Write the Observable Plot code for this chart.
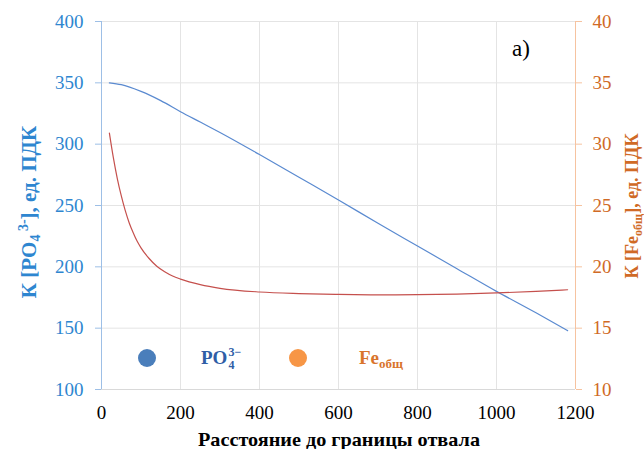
<!DOCTYPE html>
<html>
<head>
<meta charset="utf-8">
<script src="https://cdn.jsdelivr.net/npm/d3@7"></script>
<script src="https://cdn.jsdelivr.net/npm/@observablehq/plot@0.6"></script>
<style>
  html, body { margin: 0; padding: 0; background: #fff; }
  #chart { width: 644px; height: 449px; }
</style>
</head>
<body>
<div id="chart"></div>
<script>
// Phosphate concentration (left axis, units of MPC) vs distance from the dump boundary
const phosphateDistance = [20, 50, 100, 150, 200, 250, 300, 400, 500, 600, 700, 800, 900, 1000, 1100, 1180];
const phosphate = [350, 348.5, 343, 335.5, 326.5, 318, 309.5, 291.5, 273, 254.5, 235.5, 217, 198.5, 180, 162.5, 148];

// Total iron concentration (right axis, units of MPC)
const ironDistance = [20, 30, 40, 50, 60, 70, 80, 90, 100, 120, 140, 160, 180, 200, 250, 300, 400, 500, 600, 700, 800, 900, 1000, 1100, 1180];
const iron = [30.9, 28.9, 27.2, 25.8, 24.6, 23.6, 22.8, 22.1, 21.55, 20.7, 20.05, 19.6, 19.25, 19.0, 18.55, 18.25, 17.95, 17.82, 17.75, 17.72, 17.73, 17.78, 17.87, 18.0, 18.13];

// Axis ticks
const xTicks = [0, 200, 400, 600, 800, 1000, 1200];
const leftTicks = [100, 150, 200, 250, 300, 350, 400];
const rightTicks = [10, 15, 20, 25, 30, 35, 40];

// The right axis (10–40) shares the plot height with the left one (100–400)
const ironScale = 10;

const serif = "'Liberation Serif', 'Times New Roman', serif";
const blueText = "#2e86d0";
const orangeText = "#d06a26";

const svg = Plot.plot({
  width: 644,
  height: 449,
  marginTop: 21,
  marginRight: 69,
  marginBottom: 60,
  marginLeft: 101,
  x: { domain: [0, 1200] },
  y: { domain: [100, 400] },
  style: { fontFamily: serif, fontSize: "19px", background: "#fff", overflow: "visible" },
  marks: [
    Plot.gridX(xTicks.filter(d => d > 0 && d < 1200), { stroke: "#e4e4e4", strokeOpacity: 1 }),
    Plot.gridY(leftTicks.filter(d => d > 100), { stroke: "#e4e4e4", strokeOpacity: 1 }),
    Plot.ruleY([100], { stroke: "#d9d9d9" }),
    Plot.ruleX([0], { stroke: "#9dbfe6" }),
    Plot.ruleX([1200], { stroke: "#f6c3a0" }),
    Plot.axisY(leftTicks, {
      anchor: "left", tickSize: 6, tickPadding: 12, label: null,
      stroke: "#9dbfe6", fill: blueText, fontSize: 19
    }),
    Plot.axisY(rightTicks.map(v => v * ironScale), {
      anchor: "right", tickSize: 6, tickPadding: 11, label: null,
      tickFormat: d => String(d / ironScale),
      stroke: "#f6c3a0", fill: orangeText, fontSize: 19
    }),
    Plot.axisX(xTicks, {
      anchor: "bottom", tickSize: 0, tickPadding: 16, label: null,
      tickFormat: d => String(d),
      fill: "#000", fontSize: 19
    }),
    Plot.line(phosphate, {
      x: (d, i) => phosphateDistance[i], y: d => d,
      stroke: "#5a8ad0", strokeWidth: 1.2, curve: "monotone-x"
    }),
    Plot.line(iron, {
      x: (d, i) => ironDistance[i], y: d => d * ironScale,
      stroke: "#c5504d", strokeWidth: 1.2, curve: "monotone-x"
    })
  ]
});

document.getElementById("chart").appendChild(svg);
const root = d3.select(svg);

// X axis title
root.append("text")
  .attr("x", 339).attr("y", 446)
  .attr("text-anchor", "middle")
  .attr("font-family", serif).attr("font-weight", "bold").attr("font-size", 19)
  .attr("textLength", 282).attr("lengthAdjust", "spacingAndGlyphs")
  .attr("fill", "#000")
  .text("Расстояние до границы отвала");

// Left axis title: К [PO4 3-], ед. ПДК
const leftTitle = root.append("text")
  .attr("transform", "translate(36,212) rotate(-90)")
  .attr("text-anchor", "middle")
  .attr("font-family", serif).attr("font-weight", "bold").attr("font-size", 21)
  .attr("fill", blueText);
leftTitle.append("tspan").text("К [PO");
leftTitle.append("tspan").attr("font-size", 14).attr("dy", 4).text("4");
leftTitle.append("tspan").attr("font-size", 14).attr("dy", -12).text(" 3-");
leftTitle.append("tspan").attr("dy", 8).text("], ед. ПДК");

// Right axis title: К [Fe общ], ед. ПДК
const rightTitle = root.append("text")
  .attr("transform", "translate(638,206) rotate(-90)")
  .attr("text-anchor", "middle")
  .attr("font-family", serif).attr("font-weight", "bold").attr("font-size", 18)
  .attr("fill", orangeText);
rightTitle.append("tspan").text("К [Fe");
rightTitle.append("tspan").attr("font-size", 12).attr("dy", 4).text("общ");
rightTitle.append("tspan").attr("dy", -4).text("], ед. ПДК");

// Panel tag
root.append("text")
  .attr("x", 512).attr("y", 56)
  .attr("text-anchor", "start")
  .attr("font-family", serif).attr("font-size", 23)
  .attr("fill", "#000")
  .text("a)");

// Legend
const legend = root.append("g")
  .attr("font-family", serif).attr("font-weight", "bold").attr("text-anchor", "start");
legend.append("circle").attr("cx", 147).attr("cy", 358).attr("r", 9).attr("fill", "#4a7ebb");
const po = legend.append("text").attr("x", 201).attr("y", 364)
  .attr("font-size", 19).attr("fill", "#2f5ea6").text("PO");
const poWidth = po.node().getComputedTextLength();
legend.append("text").attr("x", 201 + poWidth + 1).attr("y", 356)
  .attr("font-size", 12).attr("fill", "#2f5ea6").text("3−");
legend.append("text").attr("x", 201 + poWidth + 1).attr("y", 369)
  .attr("font-size", 12).attr("fill", "#2f5ea6").text("4");

legend.append("circle").attr("cx", 298).attr("cy", 358).attr("r", 9).attr("fill", "#f79646");
const fe = legend.append("text").attr("x", 359).attr("y", 364)
  .attr("font-size", 19).attr("fill", "#d9742c");
fe.append("tspan").text("Fe");
fe.append("tspan").attr("font-size", 13).attr("dy", 4).text("общ");
</script>
</body>
</html>
